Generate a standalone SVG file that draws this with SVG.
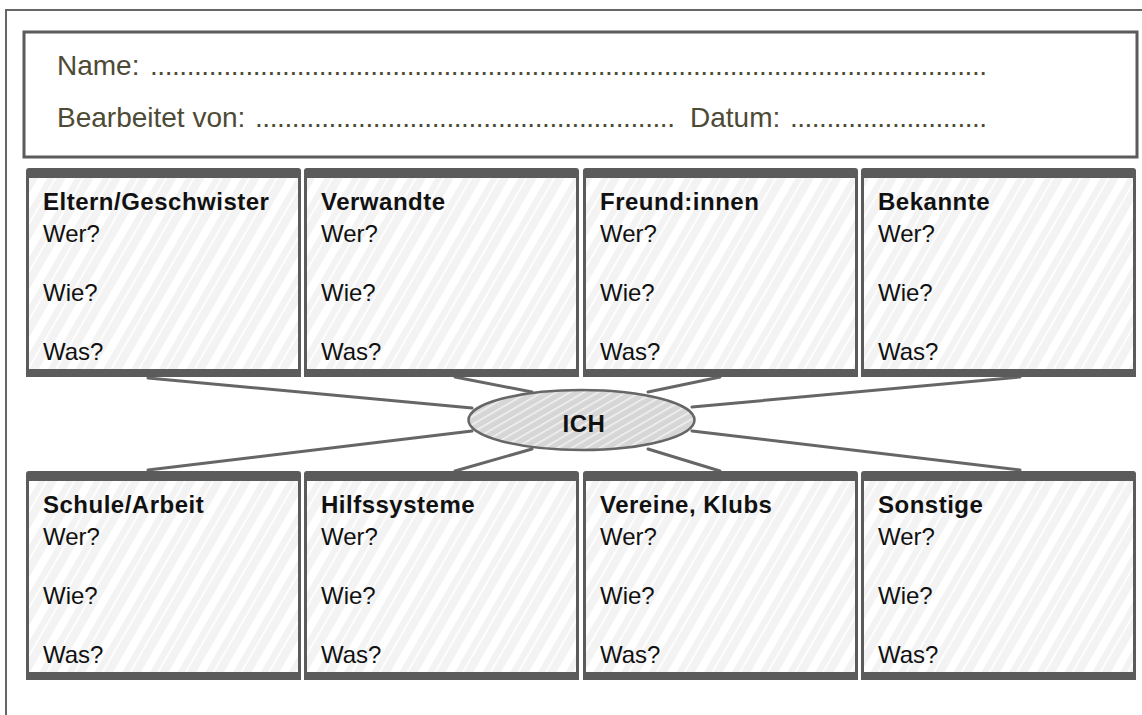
<svg xmlns="http://www.w3.org/2000/svg" width="1142" height="715" viewBox="0 0 1142 715">
  <style>
    .frame { fill: none; stroke: #666; stroke-width: 2; }
    .hdr { fill: #fff; stroke: #5b5b5b; stroke-width: 3; }
    .htxt { font-family: "Liberation Sans", Arial, sans-serif; font-size: 28px; fill: #4d4a35; }
    .body { fill: url(#hatch); }
    .bar { fill: #5b5b5b; }
    .side { stroke: #5b5b5b; stroke-width: 3; fill: none; }
    .ttl { font-family: "Liberation Sans", Arial, sans-serif; font-size: 24px; font-weight: bold; letter-spacing: 0.5px; fill: #111; }
    .q { font-family: "Liberation Sans", Arial, sans-serif; font-size: 24px; fill: #111; }
    .con { stroke: #666; stroke-width: 3; stroke-linecap: round; fill: none; }
    .ich { fill: url(#hatch2); stroke: #666; stroke-width: 2.5; }
  </style>
  <defs>
    <pattern id="hatch" patternUnits="userSpaceOnUse" width="24" height="24" patternTransform="rotate(30)">
      <rect width="24" height="24" fill="#f3f3f3"/>
      <rect x="2" width="8" height="24" fill="#ffffff"/>
      <rect x="16" width="2" height="24" fill="#ffffff" opacity="0.8"/>
    </pattern>
    <pattern id="hatch2" patternUnits="userSpaceOnUse" width="7" height="7" patternTransform="rotate(60)">
      <rect width="7" height="7" fill="#d6d6d6"/>
      <rect x="1" width="1.5" height="7" fill="#f2f2f2"/>
    </pattern>
  </defs>

  <path class="frame" d="M6,715 V10 H1142"/>

  <g id="header">
    <rect class="hdr" x="24" y="32" width="1113" height="125"/>
    <text class="htxt" x="57" y="75">Name:</text>
    <text class="htxt" x="150" y="75" textLength="837" lengthAdjust="spacing">..................................................................................................................</text>
    <text class="htxt" x="57" y="127">Bearbeitet von:</text>
    <text class="htxt" x="255" y="127" textLength="420" lengthAdjust="spacing">.........................................................</text>
    <text class="htxt" x="690" y="127">Datum:</text>
    <text class="htxt" x="790" y="127" textLength="197" lengthAdjust="spacing">...........................</text>
  </g>

  <g id="connectors">
    <line class="con" x1="148" y1="378" x2="472" y2="408"/>
    <line class="con" x1="455" y1="377" x2="532" y2="392"/>
    <line class="con" x1="720" y1="377" x2="648" y2="392"/>
    <line class="con" x1="1020" y1="377" x2="692" y2="407"/>
    <line class="con" x1="472" y1="431" x2="148" y2="470"/>
    <line class="con" x1="532" y1="449" x2="455" y2="471"/>
    <line class="con" x1="648" y1="449" x2="720" y2="471"/>
    <line class="con" x1="692" y1="431" x2="1020" y2="470"/>
  </g>

  <g id="ich">
    <ellipse class="ich" cx="581.5" cy="420" rx="113" ry="30"/>
    <text class="ttl" x="584" y="432" text-anchor="middle">ICH</text>
  </g>

  <!-- top row -->
  <g id="eltern">
    <rect class="body" x="26" y="176" width="275" height="195"/>
    <path class="side" d="M27.5,176 V371 M299.5,176 V371"/>
    <rect class="bar" x="26" y="168" width="275" height="10" rx="3"/>
    <rect class="bar" x="26" y="369" width="275" height="8"/>
    <text class="ttl" x="43" y="210">Eltern/Geschwister</text>
    <text class="q" x="43" y="242">Wer?</text>
    <text class="q" x="43" y="301">Wie?</text>
    <text class="q" x="43" y="360">Was?</text>
  </g>
  <g id="verwandte">
    <rect class="body" x="304" y="176" width="275" height="195"/>
    <path class="side" d="M305.5,176 V371 M577.5,176 V371"/>
    <rect class="bar" x="304" y="168" width="275" height="10" rx="3"/>
    <rect class="bar" x="304" y="369" width="275" height="8"/>
    <text class="ttl" x="321" y="210">Verwandte</text>
    <text class="q" x="321" y="242">Wer?</text>
    <text class="q" x="321" y="301">Wie?</text>
    <text class="q" x="321" y="360">Was?</text>
  </g>
  <g id="freunde">
    <rect class="body" x="583" y="176" width="275" height="195"/>
    <path class="side" d="M584.5,176 V371 M856.5,176 V371"/>
    <rect class="bar" x="583" y="168" width="275" height="10" rx="3"/>
    <rect class="bar" x="583" y="369" width="275" height="8"/>
    <text class="ttl" x="600" y="210">Freund:innen</text>
    <text class="q" x="600" y="242">Wer?</text>
    <text class="q" x="600" y="301">Wie?</text>
    <text class="q" x="600" y="360">Was?</text>
  </g>
  <g id="bekannte">
    <rect class="body" x="861" y="176" width="275" height="195"/>
    <path class="side" d="M862.5,176 V371 M1134.5,176 V371"/>
    <rect class="bar" x="861" y="168" width="275" height="10" rx="3"/>
    <rect class="bar" x="861" y="369" width="275" height="8"/>
    <text class="ttl" x="878" y="210">Bekannte</text>
    <text class="q" x="878" y="242">Wer?</text>
    <text class="q" x="878" y="301">Wie?</text>
    <text class="q" x="878" y="360">Was?</text>
  </g>

  <!-- bottom row -->
  <g id="schule">
    <rect class="body" x="26" y="479" width="275" height="195"/>
    <path class="side" d="M27.5,479 V674 M299.5,479 V674"/>
    <rect class="bar" x="26" y="471" width="275" height="10" rx="3"/>
    <rect class="bar" x="26" y="672" width="275" height="8"/>
    <text class="ttl" x="43" y="513">Schule/Arbeit</text>
    <text class="q" x="43" y="545">Wer?</text>
    <text class="q" x="43" y="604">Wie?</text>
    <text class="q" x="43" y="663">Was?</text>
  </g>
  <g id="hilfssysteme">
    <rect class="body" x="304" y="479" width="275" height="195"/>
    <path class="side" d="M305.5,479 V674 M577.5,479 V674"/>
    <rect class="bar" x="304" y="471" width="275" height="10" rx="3"/>
    <rect class="bar" x="304" y="672" width="275" height="8"/>
    <text class="ttl" x="321" y="513">Hilfssysteme</text>
    <text class="q" x="321" y="545">Wer?</text>
    <text class="q" x="321" y="604">Wie?</text>
    <text class="q" x="321" y="663">Was?</text>
  </g>
  <g id="vereine">
    <rect class="body" x="583" y="479" width="275" height="195"/>
    <path class="side" d="M584.5,479 V674 M856.5,479 V674"/>
    <rect class="bar" x="583" y="471" width="275" height="10" rx="3"/>
    <rect class="bar" x="583" y="672" width="275" height="8"/>
    <text class="ttl" x="600" y="513">Vereine, Klubs</text>
    <text class="q" x="600" y="545">Wer?</text>
    <text class="q" x="600" y="604">Wie?</text>
    <text class="q" x="600" y="663">Was?</text>
  </g>
  <g id="sonstige">
    <rect class="body" x="861" y="479" width="275" height="195"/>
    <path class="side" d="M862.5,479 V674 M1134.5,479 V674"/>
    <rect class="bar" x="861" y="471" width="275" height="10" rx="3"/>
    <rect class="bar" x="861" y="672" width="275" height="8"/>
    <text class="ttl" x="878" y="513">Sonstige</text>
    <text class="q" x="878" y="545">Wer?</text>
    <text class="q" x="878" y="604">Wie?</text>
    <text class="q" x="878" y="663">Was?</text>
  </g>
</svg>
